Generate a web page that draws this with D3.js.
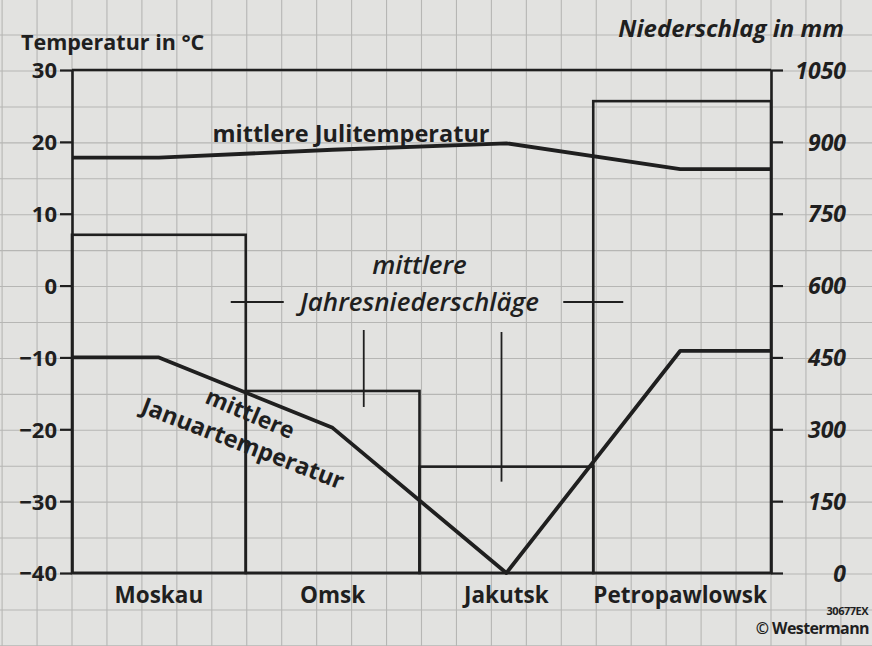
<!DOCTYPE html>
<html>
<head>
<meta charset="utf-8">
<script src="https://cdn.jsdelivr.net/npm/d3@7/dist/d3.min.js"></script>
<style>
  html, body { margin: 0; padding: 0; background: #e2e2e0; }
  svg { display: block; }
  text { font-family: "Open Sans", "Noto Sans", sans-serif; fill: #1f1f1f; font-weight: 700; }
</style>
</head>
<body>
<svg id="chart" width="872" height="646"></svg>
<script>
// ---- data ----
const categories = ["Moskau", "Omsk", "Jakutsk", "Petropawlowsk"];
const precipitation = [706, 380, 222, 985];      // mm
const julyTemp = [17.8, 18.9, 19.8, 16.2];       // °C
const januaryTemp = [-10, -19.8, -40, -9.1];     // °C
const tempTicks = [30, 20, 10, 0, -10, -20, -30, -40];
const precipTicks = [1050, 900, 750, 600, 450, 300, 150, 0];

// ---- layout ----
const W = 872, H = 646;
const mLeft = 72, mRight = 771, mTop = 70, mBottom = 573;
const ink = "#1f1f1f";

const svg = d3.select("#chart");

const x = d3.scaleBand().domain(categories).range([mLeft, mRight - 4]).paddingInner(0).paddingOuter(0);
const yT = d3.scaleLinear().domain([-40, 30]).range([mBottom, mTop]);
const yP = d3.scaleLinear().domain([0, 1050]).range([mBottom, mTop]);

// ---- graph-paper grid ----
const gx = d3.scaleLinear().domain([0, 20]).range([mLeft, mRight]);
const grid = svg.append("g").attr("stroke", "#b6b6b4").attr("stroke-width", 1.1);
d3.range(-3, 25).forEach(k => {
  const px = gx(k);
  if (px > -2 && px < W + 2) grid.append("line").attr("x1", px).attr("x2", px).attr("y1", 0).attr("y2", H);
});
d3.range(-70, 60, 5).forEach(v => {
  const py = yT(v) + 1;
  if (py > -2 && py < H + 2) grid.append("line").attr("x1", 0).attr("x2", W).attr("y1", py).attr("y2", py);
});

// ---- precipitation bars ----
svg.append("g").selectAll("rect")
  .data(categories)
  .join("rect")
  .attr("x", d => x(d))
  .attr("width", (d, i) => i === categories.length - 1 ? mRight - x(d) : x.bandwidth())
  .attr("y", (d, i) => yP(precipitation[i]))
  .attr("height", (d, i) => yP(0) - yP(precipitation[i]))
  .attr("fill", "none")
  .attr("stroke", ink)
  .attr("stroke-width", 2.6);

// ---- frame top line ----
svg.append("line").attr("x1", mLeft).attr("x2", mRight).attr("y1", yT(30)).attr("y2", yT(30))
  .attr("stroke", ink).attr("stroke-width", 2.6);

// ---- axes ----
const axL = svg.append("g").attr("transform", `translate(${mLeft},0)`)
  .call(d3.axisLeft(yT).tickValues(tempTicks).tickSize(12).tickSizeOuter(0).tickPadding(3).tickFormat(d3.format("d")));
const axR = svg.append("g").attr("transform", `translate(${mRight},0)`)
  .call(d3.axisRight(yP).tickValues(precipTicks).tickSize(12).tickSizeOuter(0).tickPadding(3).tickFormat(d3.format("d")));
[axL, axR].forEach(a => {
  a.select(".domain").attr("stroke", ink).attr("stroke-width", 2.6);
  a.selectAll(".tick line").attr("stroke", ink).attr("stroke-width", 2.2);
  a.selectAll(".tick text").attr("fill", ink).style("font-size", "22px").style("font-weight", 700)
    .style("font-family", '"Open Sans", sans-serif');
});
axL.selectAll(".tick text").attr("dy", "0.36em");
axR.selectAll(".tick text").attr("text-anchor", "end").attr("x", 75).attr("dy", "0.36em")
  .style("font-style", "italic").style("font-size", "23px");
svg.append("line").attr("x1", mLeft).attr("x2", mRight).attr("y1", mBottom).attr("y2", mBottom)
  .attr("stroke", ink).attr("stroke-width", 2.6);

// ---- temperature lines ----
function linePoints(vals) {
  const pts = [[mLeft, vals[0]]];
  categories.forEach((c, i) => pts.push([x(c) + x.bandwidth() / 2, vals[i]]));
  pts.push([mRight, vals[vals.length - 1]]);
  return pts;
}
const line = d3.line().x(d => d[0]).y(d => yT(d[1]));
[julyTemp, januaryTemp].forEach(vals => {
  svg.append("path").attr("d", line(linePoints(vals)))
    .attr("fill", "none").attr("stroke", ink).attr("stroke-width", 3.8)
    .attr("stroke-linejoin", "round");
});

// ---- axis titles ----
svg.append("text").attr("x", 21).attr("y", 50).text("Temperatur in °C")
  .style("font-size", "21.5px");
svg.append("text").attr("x", 844).attr("y", 37).attr("text-anchor", "end").text("Niederschlag in mm")
  .style("font-size", "24px").style("font-style", "italic");

// ---- category labels ----
svg.append("g").selectAll("text").data(categories).join("text")
  .attr("x", d => x(d) + x.bandwidth() / 2)
  .attr("y", 603)
  .attr("text-anchor", "middle")
  .text(d => d)
  .style("font-size", "22.5px");

// ---- annotations ----
svg.append("text").attr("x", 351).attr("y", 142).text("mittlere Julitemperatur")
  .attr("text-anchor", "middle").style("font-size", "23.5px");

const annX = x("Jakutsk");
svg.append("text").attr("x", annX).attr("y", 274).attr("text-anchor", "middle").text("mittlere")
  .style("font-size", "26px").style("font-style", "italic").style("font-weight", 600);
svg.append("text").attr("x", annX).attr("y", 311).attr("text-anchor", "middle").text("Jahresniederschläge")
  .style("font-size", "26px").style("font-style", "italic").style("font-weight", 600);

const lead = svg.append("g").attr("stroke", ink).attr("stroke-width", 1.8);
lead.append("line").attr("x1", x("Omsk") - 15).attr("x2", x("Omsk") + 38).attr("y1", 302).attr("y2", 302);
lead.append("line").attr("x1", x("Petropawlowsk") - 30).attr("x2", x("Petropawlowsk") + 30).attr("y1", 302).attr("y2", 302);
lead.append("line").attr("x1", x("Omsk") + 118).attr("x2", x("Omsk") + 118)
  .attr("y1", 330).attr("y2", yP(precipitation[1]) + 16);
lead.append("line").attr("x1", x("Jakutsk") + 82).attr("x2", x("Jakutsk") + 82)
  .attr("y1", 332).attr("y2", yP(precipitation[2]) + 15);

svg.append("text").attr("transform", "translate(247,421) rotate(23)").attr("text-anchor", "middle")
  .text("mittlere").style("font-size", "23px");
svg.append("text").attr("transform", "translate(240,451) rotate(21)").attr("text-anchor", "middle")
  .text("Januartemperatur").style("font-size", "23.5px");

// ---- credits ----
svg.append("text").attr("x", 868).attr("y", 615).attr("text-anchor", "end").text("30677EX")
  .style("font-size", "11px").style("letter-spacing", "-0.5px");
svg.append("text").attr("x", 869).attr("y", 634).attr("text-anchor", "end").text("© Westermann")
  .style("font-size", "16px").style("letter-spacing", "-0.6px");
</script>
</body>
</html>
